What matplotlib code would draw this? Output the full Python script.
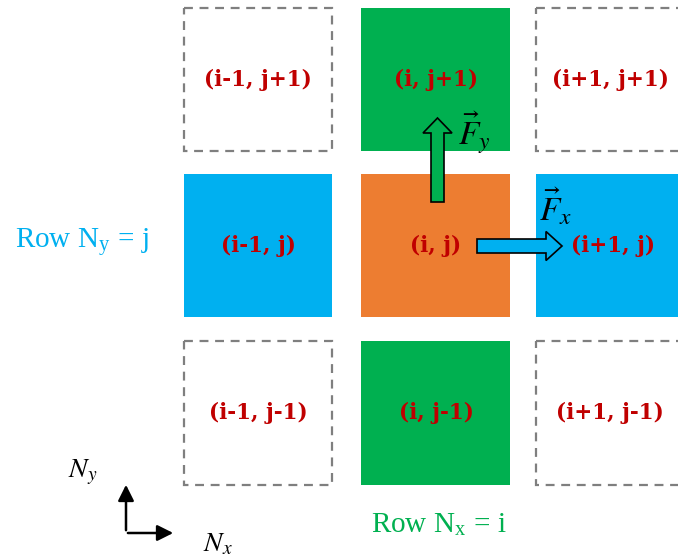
import matplotlib.pyplot as plt
from matplotlib.patches import Rectangle, FancyArrow

# cell labels, one row per j (top to bottom)
row_labels = [
    ['(i-1, j+1)', '(i, j+1)', '(i+1, j+1)'],
    ['(i-1, j)', '(i, j)', '(i+1, j)'],
    ['(i-1, j-1)', '(i, j-1)', '(i+1, j-1)'],
]
# fill of each cell, None = dashed empty cell
row_fills = [
    [None, '#00B050', None],
    ['#00B0F0', '#ED7D31', '#00B0F0'],
    [None, '#00B050', None],
]
row_text = ['Row N$_\\mathregular{y}$ = j', 'Row N$_\\mathregular{x}$ = i']

plt.rcParams['mathtext.fontset'] = 'stix'

fig = plt.figure(figsize=(6.78, 5.60), dpi=100)
ax = fig.add_axes([0, 0, 1, 1])
ax.set_xlim(0, 678)
ax.set_ylim(560, 0)
ax.axis('off')

col_x = [(184, 332), (361, 510), (536, 690)]
row_y = [(8, 151), (174, 317), (341, 485)]
label_x = [258, 436, 610]
label_y = [80, 246, 413]

for r in range(3):
    for c in range(3):
        x0, x1 = col_x[c]
        y0, y1 = row_y[r]
        fill = row_fills[r][c]
        if fill is None:
            ax.add_patch(Rectangle((x0, y0), x1 - x0, y1 - y0, fill=False,
                                   edgecolor='#7F7F7F', linestyle=(0, (4, 3)), lw=1.6))
        else:
            ax.add_patch(Rectangle((x0, y0), x1 - x0, y1 - y0, facecolor=fill, edgecolor='none'))
        lx = label_x[c] + (3 if (r == 1 and c == 2) else 0)
        ax.text(lx, label_y[r], row_labels[r][c], color='#C00000', fontsize=15.5,
                fontweight='bold', family='DejaVu Serif', ha='center', va='center')

# force arrows
ax.add_patch(FancyArrow(437.5, 202, 0, -84, width=13, head_width=29, head_length=15,
                        length_includes_head=True, facecolor='#00B050', edgecolor='black', lw=1.2))
ax.add_patch(FancyArrow(477, 246, 85, 0, width=14, head_width=29, head_length=16,
                        length_includes_head=True, facecolor='#00B0F0', edgecolor='black', lw=1.2))
ax.text(474, 133, r'$\vec{F}_y$', fontsize=24, ha='center', va='center')
ax.text(556, 207, r'$\vec{F}_x$', fontsize=24, ha='center', va='center')

# row captions
ax.text(82, 243, row_text[0], color='#00B0F0', fontsize=21, family='Liberation Serif',
        ha='center', va='center')
ax.text(439, 525, row_text[1], color='#00B050', fontsize=21, family='Liberation Serif',
        ha='center', va='center')

# axes indicator
ax.annotate('', xy=(126, 482), xytext=(126, 533),
            arrowprops=dict(arrowstyle='-|>', color='black', lw=1.8, mutation_scale=24))
ax.annotate('', xy=(176, 533), xytext=(125.1, 533),
            arrowprops=dict(arrowstyle='-|>', color='black', lw=1.8, mutation_scale=24))
ax.text(83, 472, r'$N_y$', fontsize=20, ha='center', va='center')
ax.text(218, 543, r'$N_x$', fontsize=20, ha='center', va='center')

fig.savefig('out.png', dpi=100)
